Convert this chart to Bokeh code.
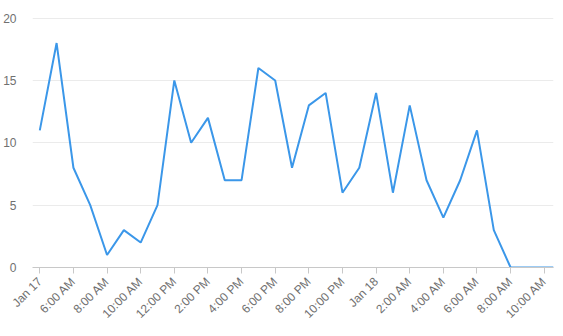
from datetime import datetime, timedelta
from bokeh.plotting import figure
from bokeh.models import FixedTicker, CustomJSTickFormatter, Range1d
from bokeh.embed import file_html
from bokeh.resources import INLINE
import math

# Data: hourly counts starting Jan 17, 4:00 AM
start = datetime(2024, 1, 17, 4, 0)
times = [start + timedelta(hours=h) for h in range(31)] + [start + timedelta(hours=30, minutes=33)]
values = [11, 18, 8, 5, 1, 3, 2, 5, 15, 10, 12, 7, 7, 16, 15, 8, 13, 14, 6, 8,
          14, 6, 13, 7, 4, 7, 11, 3, 0, 0, 0, 0]

tick_times = [start + timedelta(hours=2 * i) for i in range(16)]
tick_labels = ["Jan 17", "6:00 AM", "8:00 AM", "10:00 AM", "12:00 PM", "2:00 PM",
               "4:00 PM", "6:00 PM", "8:00 PM", "10:00 PM", "Jan 18", "2:00 AM",
               "4:00 AM", "6:00 AM", "8:00 AM", "10:00 AM"]
y_ticks = [0, 5, 10, 15, 20]

p = figure(width=563, height=336, output_backend="svg", toolbar_location=None,
           x_axis_type="datetime",
           x_range=Range1d(start - timedelta(minutes=26), start + timedelta(hours=30, minutes=33)),
           y_range=Range1d(0, 20.05),
           min_border_left=32, min_border_right=10, min_border_top=17, min_border_bottom=69)
p.outline_line_color = None
p.background_fill_color = "white"
p.border_fill_color = "white"

p.line(times, values, line_color="#3b97e9", line_width=2)

ms = [t.timestamp() * 1000 for t in tick_times]
p.xaxis.ticker = FixedTicker(ticks=ms, minor_ticks=[])
p.xaxis.formatter = CustomJSTickFormatter(args=dict(labels=tick_labels),
                                          code="return labels[index];")
p.xaxis.major_label_orientation = math.pi / 4
p.xaxis.axis_line_color = "#c8c8c8"
p.xaxis.major_tick_line_color = "#c8c8c8"
p.xaxis.major_tick_out = 6
p.xaxis.major_tick_in = 0
p.xaxis.minor_tick_line_color = None
p.xaxis.major_label_text_color = "#707070"
p.xaxis.major_label_text_font = "Liberation Sans"
p.xaxis.major_label_text_font_size = "12px"
p.xaxis.major_label_standoff = 6

p.yaxis.ticker = FixedTicker(ticks=y_ticks, minor_ticks=[])
p.yaxis.axis_line_color = None
p.yaxis.major_tick_line_color = None
p.yaxis.minor_tick_line_color = None
p.yaxis.major_label_text_color = "#707070"
p.yaxis.major_label_text_font = "Liberation Sans"
p.yaxis.major_label_text_font_size = "12px"
p.yaxis.major_label_standoff = 10

p.xgrid.grid_line_color = None
p.ygrid.grid_line_color = "#ebebeb"
p.ygrid.grid_line_width = 1

open("out.html", "w").write(file_html(p, INLINE))
